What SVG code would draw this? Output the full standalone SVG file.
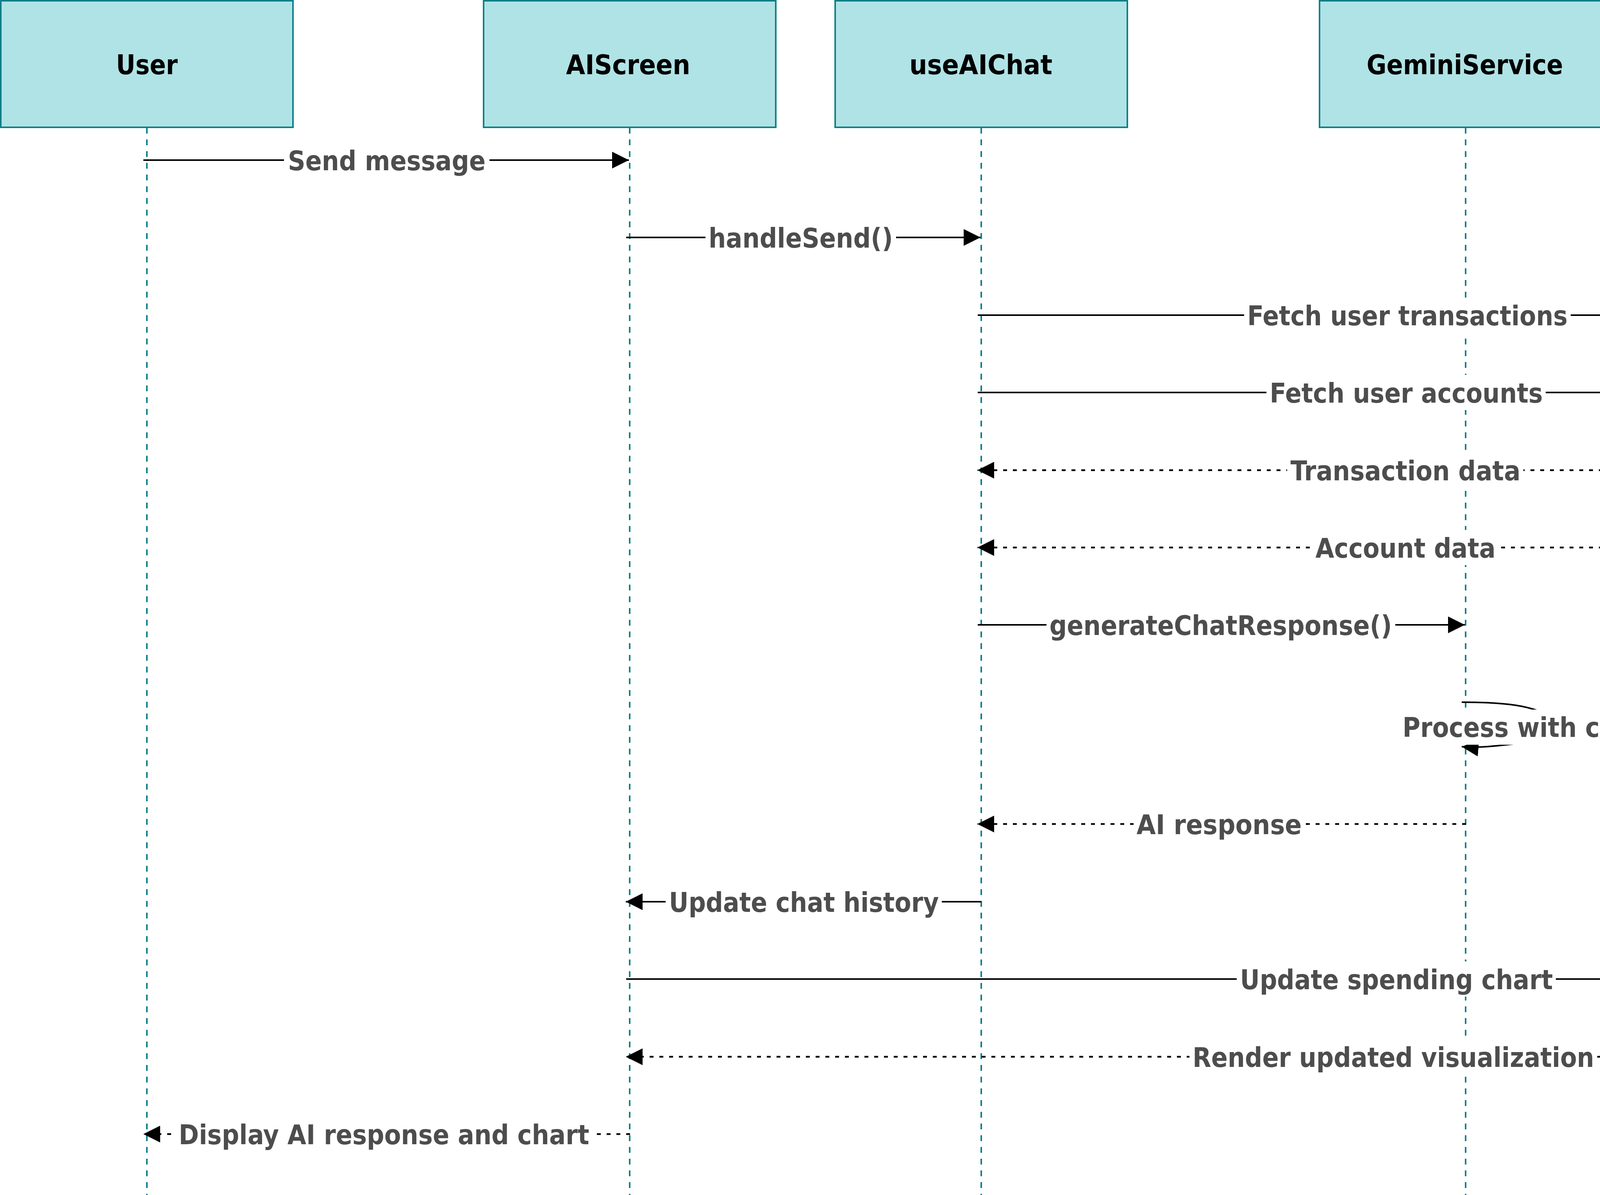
<svg xmlns="http://www.w3.org/2000/svg" width="5925" height="3060" viewBox="0 0 5925 3060">
<style>
.box{fill:#b0e3e6;stroke:#0e8088;stroke-width:4}
.life{stroke:#0e8088;stroke-width:4;stroke-dasharray:15 15;fill:none}
.title{font-family:"DejaVu Sans Condensed","DejaVu Sans","Liberation Sans",sans-serif;font-stretch:condensed;font-weight:bold;font-size:70px;fill:#000;text-anchor:middle}
.lbl{font-family:"DejaVu Sans Condensed","DejaVu Sans","Liberation Sans",sans-serif;font-stretch:condensed;font-weight:bold;font-size:70px;fill:#4d4d4d;text-anchor:middle}
.msg{stroke:#000;stroke-width:4;fill:none;marker-end:url(#ah)}
.ret{stroke:#000;stroke-width:4.5;fill:none;stroke-dasharray:10 15;marker-end:url(#ah)}
.bg{fill:#fff}
</style>
<defs>
<marker id="ah" markerUnits="userSpaceOnUse" markerWidth="43" markerHeight="43" refX="43" refY="21.5" orient="auto" viewBox="0 0 43 43"><path d="M0,0 L43,21.5 L0,43 Z" fill="#000"/></marker>
</defs>
<rect width="5925" height="3060" fill="#fff"/>
<g id="lifelines">
<line class="life" x1="376" y1="327" x2="376" y2="3060"/>
<line class="life" x1="1612" y1="327" x2="1612" y2="3060"/>
<line class="life" x1="2512" y1="327" x2="2512" y2="3060"/>
<line class="life" x1="3752" y1="327" x2="3752" y2="3060"/>
<line class="life" x1="4702" y1="327" x2="4702" y2="3060"/>
<line class="life" x1="5547" y1="327" x2="5547" y2="3060"/>
</g>
<g id="node-user"><rect class="box" x="2" y="2" width="748" height="324"/><text class="title" x="376" y="190" textLength="158" lengthAdjust="spacingAndGlyphs">User</text></g>
<g id="node-aiscreen"><rect class="box" x="1238" y="2" width="748" height="324"/><text class="title" x="1608" y="190" textLength="318" lengthAdjust="spacingAndGlyphs">AIScreen</text></g>
<g id="node-useaichat"><rect class="box" x="2138" y="2" width="748" height="324"/><text class="title" x="2511" y="190" textLength="366" lengthAdjust="spacingAndGlyphs">useAIChat</text></g>
<g id="node-geminiservice"><rect class="box" x="3378" y="2" width="748" height="324"/><text class="title" x="3750" y="190" textLength="503" lengthAdjust="spacingAndGlyphs">GeminiService</text></g>
<g id="node-firestore"><rect class="box" x="4328" y="2" width="748" height="324"/><text class="title" x="4699" y="190" textLength="314" lengthAdjust="spacingAndGlyphs">Firestore</text></g>
<g id="node-chartcomponent"><rect class="box" x="5173" y="2" width="748" height="324"/><text class="title" x="5546" y="190" textLength="593" lengthAdjust="spacingAndGlyphs">ChartComponent</text></g>
<g id="connectors">
<line class="msg" x1="367" y1="410" x2="1610" y2="410"/>
<rect class="bg" x="727" y="365" width="526" height="90"/>
<text class="lbl" x="990" y="436" textLength="506" lengthAdjust="spacingAndGlyphs">Send message</text>

<line class="msg" x1="1603" y1="608" x2="2510" y2="608"/>
<rect class="bg" x="1806" y="563" width="488" height="90"/>
<text class="lbl" x="2050" y="634" textLength="472" lengthAdjust="spacingAndGlyphs">handleSend()</text>

<line class="msg" x1="2503" y1="807" x2="4700" y2="807"/>
<rect class="bg" x="3185" y="762" width="836" height="90"/>
<text class="lbl" x="3603" y="833" textLength="820" lengthAdjust="spacingAndGlyphs">Fetch user transactions</text>

<line class="msg" x1="2503" y1="1005" x2="4700" y2="1005"/>
<rect class="bg" x="3242" y="960" width="715" height="90"/>
<text class="lbl" x="3600" y="1031" textLength="699" lengthAdjust="spacingAndGlyphs">Fetch user accounts</text>

<line class="ret" x1="4703" y1="1204" x2="2502" y2="1204"/>
<rect class="bg" x="3295" y="1159" width="605" height="90"/>
<text class="lbl" x="3598" y="1230" textLength="589" lengthAdjust="spacingAndGlyphs">Transaction data</text>

<line class="ret" x1="4703" y1="1402" x2="2502" y2="1402"/>
<rect class="bg" x="3359" y="1357" width="477" height="90"/>
<text class="lbl" x="3598" y="1428" textLength="461" lengthAdjust="spacingAndGlyphs">Account data</text>

<line class="msg" x1="2503" y1="1600" x2="3750" y2="1600"/>
<rect class="bg" x="2679" y="1555" width="893" height="90"/>
<text class="lbl" x="3125" y="1626" textLength="877" lengthAdjust="spacingAndGlyphs">generateChatResponse()</text>

<path class="msg" d="M3742,1798 C3850,1798 3930,1806 3975,1840 C3995,1858 3960,1885 3900,1902 C3850,1908 3790,1916 3742,1912"/>
<rect class="bg" x="3582" y="1817" width="749" height="90"/>
<text class="lbl" x="3957" y="1887" textLength="733" lengthAdjust="spacingAndGlyphs">Process with context</text>

<line class="ret" x1="3753" y1="2110" x2="2502" y2="2110"/>
<rect class="bg" x="2902" y="2065" width="439" height="90"/>
<text class="lbl" x="3121" y="2136" textLength="423" lengthAdjust="spacingAndGlyphs">AI response</text>

<line class="msg" x1="2512" y1="2309" x2="1602" y2="2309"/>
<rect class="bg" x="1704" y="2264" width="707" height="90"/>
<text class="lbl" x="2058" y="2335" textLength="691" lengthAdjust="spacingAndGlyphs">Update chat history</text>

<line class="msg" x1="1603" y1="2507" x2="5545" y2="2507"/>
<rect class="bg" x="3166" y="2462" width="817" height="90"/>
<text class="lbl" x="3575" y="2533" textLength="801" lengthAdjust="spacingAndGlyphs">Update spending chart</text>

<line class="ret" x1="5548" y1="2706" x2="1602" y2="2706"/>
<rect class="bg" x="3045" y="2661" width="1044" height="90"/>
<text class="lbl" x="3567" y="2732" textLength="1028" lengthAdjust="spacingAndGlyphs">Render updated visualization</text>

<line class="ret" x1="1613" y1="2904" x2="367" y2="2904"/>
<rect class="bg" x="449" y="2859" width="1067" height="90"/>
<text class="lbl" x="983" y="2930" textLength="1051" lengthAdjust="spacingAndGlyphs">Display AI response and chart</text>
</g>
</svg>
